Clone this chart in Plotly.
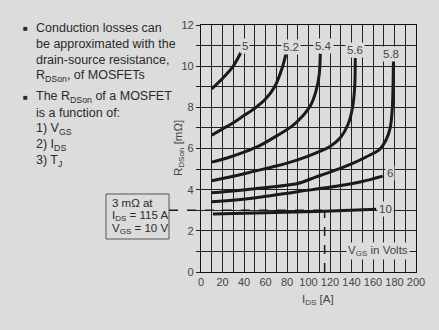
import plotly.graph_objects as go

# ---- data ----
vgs_labels = ["5", "5.2", "5.4", "5.6", "5.8", "6", "10"]

ids_5 = [10, 20, 30, 37]
rds_5 = [8.9, 9.4, 10.0, 10.65]

ids_52 = [10, 20, 30, 40, 50, 60, 68.5, 76, 79]
rds_52 = [6.65, 6.95, 7.25, 7.6, 7.95, 8.4, 9.0, 10.0, 10.6]

ids_54 = [10, 25, 40, 55, 70, 85, 95, 102, 107, 110, 111]
rds_54 = [5.34, 5.55, 5.82, 6.15, 6.6, 7.1, 7.6, 8.1, 8.8, 9.6, 10.6]

ids_56 = [10, 30, 50, 70, 90, 110, 120, 130, 137, 141, 143, 143.5]
rds_56 = [4.43, 4.65, 4.9, 5.15, 5.45, 5.85, 6.1, 6.55, 7.2, 8.0, 9.0, 10.4]

ids_58 = [10, 50, 90, 106, 120, 140, 154, 166, 172, 176, 178, 179]
rds_58 = [3.85, 4.05, 4.3, 4.6, 4.85, 5.25, 5.6, 5.95, 6.4, 7.0, 8.0, 10.25]

ids_6 = [10, 50, 90, 130, 150, 169]
rds_6 = [3.41, 3.6, 3.9, 4.2, 4.4, 4.66]

ids_10 = [11, 60, 115, 163]
rds_10 = [2.82, 2.88, 2.95, 3.05]

label_ids = [40.7, 84, 114, 143.6, 177, 175.6, 172]
label_rds = [11.0, 10.94, 11.0, 10.78, 10.6, 4.79, 3.06]

op_ids = 115
op_rds = 3

# ---- layout constants ----
W, H = 439, 330
L, R, T, B = 201, 23, 25, 58
PW, PH = W - L - R, H - T - B
BG = "#dcdcdc"
INK = "#1a1a1a"
TXT = "#2a2a2a"
FONT = "Liberation Sans, Arial, Helvetica, sans-serif"


def px(x):
    return (x - L) / PW


def py(y):
    return (H - B - y) / PH


fig = go.Figure()
series = [(ids_5, rds_5), (ids_52, rds_52), (ids_54, rds_54), (ids_56, rds_56),
          (ids_58, rds_58), (ids_6, rds_6), (ids_10, rds_10)]
for (xs, ys), name in zip(series, vgs_labels):
    fig.add_trace(go.Scatter(x=xs, y=ys, mode="lines", name=name,
                             line=dict(color=INK, width=3, shape="spline", smoothing=0.8),
                             showlegend=False, hoverinfo="skip"))

annotations = []
for x, y, t in zip(label_ids, label_rds, vgs_labels):
    annotations.append(dict(x=x, y=y, xref="x", yref="y", text=t, showarrow=False,
                            font=dict(size=11.5, color="#444", family=FONT),
                            bgcolor=BG, borderpad=1))
annotations.append(dict(x=165, y=1.02, xref="x", yref="y",
                        text="V<sub>GS</sub> in Volts", showarrow=False,
                        font=dict(size=11.5, color="#444", family=FONT),
                        bgcolor=BG, borderpad=1))

# left text
lines = [
    (28, "Conduction losses can", True),
    (44, "be approximated with the", False),
    (60, "drain-source resistance,", False),
    (76, "R<sub>DSon</sub>, of MOSFETs", False),
    (97, "The R<sub>DSon</sub> of a MOSFET", True),
    (113, "is a function of:", False),
    (129, "1) V<sub>GS</sub>", False),
    (145, "2) I<sub>DS</sub>", False),
    (161, "3) T<sub>J</sub>", False),
]
for y, t, bullet in lines:
    annotations.append(dict(x=px(34), y=py(y), xref="paper", yref="paper", text=t,
                            xanchor="left", yanchor="middle", showarrow=False,
                            font=dict(size=12.5, color=TXT, family=FONT)))
    if bullet:
        annotations.append(dict(x=px(25), y=py(y + 0.5), xref="paper", yref="paper", text="■",
                                xanchor="center", yanchor="middle", showarrow=False,
                                font=dict(size=8, color=TXT, family=FONT)))

# operating point box text
for y, t in [(203, "3 mΩ at"), (216, "I<sub>DS</sub> = 115 A"), (229, "V<sub>GS</sub> = 10 V")]:
    annotations.append(dict(x=px(110), y=py(y), xref="paper", yref="paper", text=t,
                            xanchor="left", yanchor="middle", showarrow=False,
                            font=dict(size=11.5, color=TXT, family=FONT)))

# axis titles
annotations.append(dict(x=px(179), y=py(148), xref="paper", yref="paper",
                        text="R<sub>DSon</sub> [mΩ]", textangle=-90, showarrow=False,
                        xanchor="center", yanchor="middle",
                        font=dict(size=11.5, color="#444", family=FONT)))
annotations.append(dict(x=px(318), y=py(300), xref="paper", yref="paper",
                        text="I<sub>DS</sub> [A]", showarrow=False,
                        xanchor="center", yanchor="middle",
                        font=dict(size=11.5, color="#444", family=FONT)))

shapes = [
    dict(type="rect", xref="paper", yref="paper", x0=px(106), x1=px(169),
         y0=py(194), y1=py(239), line=dict(color="#555", width=1), fillcolor=BG),
    dict(type="line", xref="paper", yref="y", x0=px(169), x1=op_ids / 200,
         y0=op_rds, y1=op_rds, line=dict(color=INK, width=1.5, dash="dash")),
    dict(type="line", xref="x", yref="y", x0=op_ids, x1=op_ids, y0=0, y1=op_rds,
         line=dict(color=INK, width=1.5, dash="dash")),
]

fig.update_layout(
    width=W, height=H,
    margin=dict(l=L, r=R, t=T, b=B, pad=0),
    paper_bgcolor=BG, plot_bgcolor=BG,
    font=dict(family=FONT, size=11, color="#444"),
    annotations=annotations, shapes=shapes,
    xaxis=dict(range=[0, 200], tick0=0, dtick=20, tickangle=0,
               showgrid=True, gridcolor="#222", gridwidth=1,
               minor=dict(dtick=10, showgrid=True, gridcolor="#222", gridwidth=1),
               showline=True, linecolor="#111", linewidth=1.3, mirror=True,
               ticks="", zeroline=False, fixedrange=True,
               tickfont=dict(size=11, color="#444")),
    yaxis=dict(range=[0, 12], tick0=0, dtick=2,
               showgrid=True, gridcolor="#222", gridwidth=1,
               minor=dict(dtick=1, showgrid=True, gridcolor="#222", gridwidth=1,
                          ticks="outside", ticklen=4, tickcolor="#222"),
               showline=True, linecolor="#111", linewidth=1.3, mirror=True,
               ticks="outside", ticklen=4, tickcolor="#222",
               zeroline=False, fixedrange=True,
               tickfont=dict(size=11, color="#444")),
)

fig.write_html("out.html", config={"displayModeBar": False},
               post_script="document.body.style.margin='0';")
